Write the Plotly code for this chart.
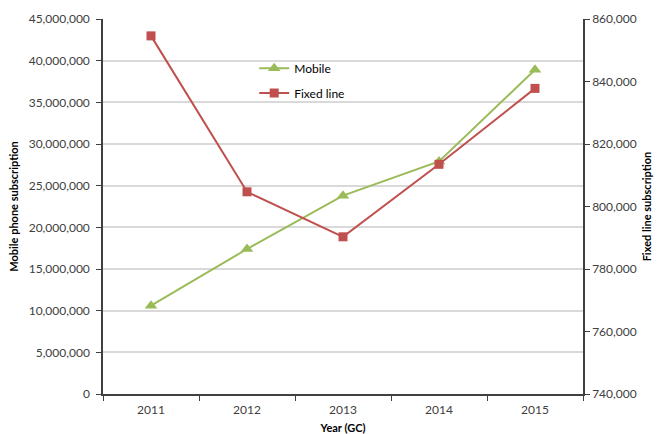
import plotly.graph_objects as go

years = ["2011", "2012", "2013", "2014", "2015"]
mobile = [10600000, 17400000, 23800000, 27900000, 38900000]
fixed_line = [854600, 804700, 790300, 813500, 837800]

GREEN = "#9BBB59"
RED = "#C0504D"
FONT = "Lato"

fig = go.Figure()
fig.add_trace(go.Scatter(
    x=years, y=mobile, name="Mobile", mode="lines+markers",
    line=dict(color=GREEN, width=2),
    marker=dict(symbol="triangle-up", size=11, color=GREEN),
    legend="legend", yaxis="y"))
fig.add_trace(go.Scatter(
    x=years, y=fixed_line, name="Fixed line", mode="lines+markers",
    line=dict(color=RED, width=2),
    marker=dict(symbol="square", size=9, color=RED),
    legend="legend2", yaxis="y2"))

tickfont = dict(family=FONT, size=12, color="#404040")
titlefont = dict(family=FONT, size=11, color="#000000", weight="bold")

fig.update_layout(
    width=660, height=434,
    margin=dict(l=103, r=77, t=19, b=40),
    paper_bgcolor="white", plot_bgcolor="white",
    font=dict(family=FONT, size=11, color="#404040"),
    xaxis=dict(
        type="category", range=[-0.5, 4.5], tickson="boundaries",
        ticks="outside", ticklen=5, tickcolor="#404040",
        showline=True, linecolor="#404040", linewidth=1.5,
        showgrid=False, tickfont=tickfont, ticklabelstandoff=4,
        automargin=False,
        title=dict(text="Year (GC)", font=titlefont, standoff=14),
    ),
    yaxis=dict(
        range=[0, 45000000], dtick=5000000, tickformat=",",
        ticks="outside", ticklen=5, tickcolor="#404040",
        showline=True, linecolor="#404040", linewidth=1.5,
        showgrid=True, gridcolor="#D9D9D9", gridwidth=1.5,
        zeroline=False, tickfont=tickfont, ticklabelstandoff=4,
        automargin=False,
        title=dict(text="Mobile phone subscription", font=titlefont, standoff=8),
    ),
    yaxis2=dict(
        overlaying="y", side="right",
        range=[740000, 860000], dtick=20000, tickformat=",",
        ticks="outside", ticklen=5, tickcolor="#404040",
        showline=True, linecolor="#404040", linewidth=1.5,
        showgrid=False, zeroline=False, tickfont=tickfont,
        automargin=False,
        title=dict(text="Fixed line subscription", font=titlefont, standoff=8),
    ),
    legend=dict(x=0.315, y=0.869, xanchor="left", yanchor="middle",
                bgcolor="rgba(0,0,0,0)", font=dict(family=FONT, size=12, color="#000"),
                itemwidth=30),
    legend2=dict(x=0.315, y=0.803, xanchor="left", yanchor="middle",
                 bgcolor="rgba(0,0,0,0)", font=dict(family=FONT, size=12, color="#000"),
                 itemwidth=30),
    showlegend=True,
)

fig.write_html("out.html")
